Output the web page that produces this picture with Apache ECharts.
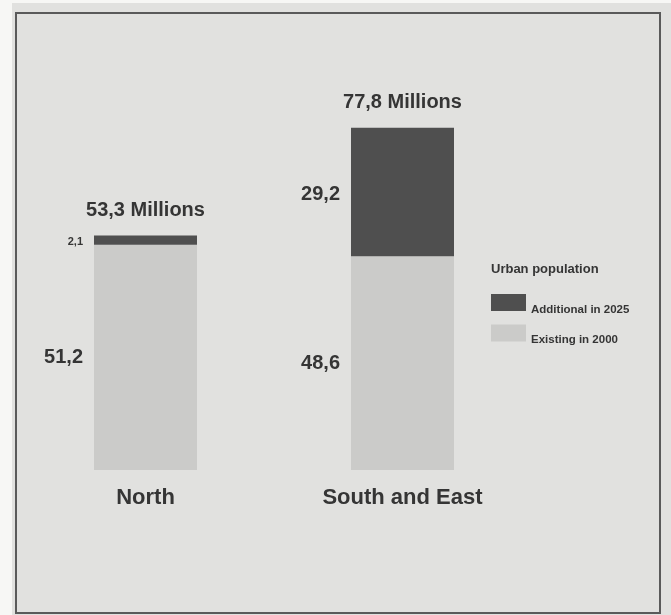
<!DOCTYPE html>
<html>
<head>
<meta charset="utf-8">
<script src="https://cdn.jsdelivr.net/npm/echarts@6/dist/echarts.min.js"></script>
<style>
html,body{margin:0;padding:0;background:#e1e1df;}
#c{width:671px;height:615px;}
</style>
</head>
<body>
<div id="c"></div>
<script>
const categories = ['North', 'South and East'];
const existing2000 = [51.2, 48.6];
const additional2025 = [2.1, 29.2];
const totals = [53.3, 77.8];
const legendTitle = 'Urban population';
const seriesNames = ['Additional in 2025', 'Existing in 2000'];

const fmt = v => String(v.toFixed(1)).replace('.', ',');
const FONT = '"Liberation Sans", Arial, sans-serif';
const TXT = '#353535';

const chart = echarts.init(document.getElementById('c'), null, {renderer: 'canvas'});
chart.setOption({
  backgroundColor: '#e1e1df',
  animation: false,
  textStyle: {fontFamily: FONT},
  title: {
    text: legendTitle, left: 491, top: 263, padding: 0,
    textStyle: {fontFamily: FONT, fontSize: 13, fontWeight: 'bold', color: TXT}
  },
  legend: {
    data: seriesNames,
    orient: 'vertical', left: 491, top: 294, padding: 0,
    itemWidth: 35, itemHeight: 17, itemGap: 9,
    icon: 'rect',
    formatter: '{a|{name}}',
    textStyle: {fontFamily: FONT, fontSize: 11.5, fontWeight: 'bold', color: TXT,
      rich: {a: {fontFamily: FONT, fontSize: 11.5, fontWeight: 'bold', color: TXT, padding: [14, 0, 0, 0]}}}
  },
  grid: {left: 17, width: 514, top: 118, bottom: 145, containLabel: false},
  xAxis: {
    type: 'category', data: categories,
    axisLine: {show: false}, axisTick: {show: false}, splitLine: {show: false},
    axisLabel: {margin: 17, fontFamily: FONT, fontSize: 22, fontWeight: 'bold', color: TXT}
  },
  yAxis: {type: 'value', min: 0, max: 80, show: false, splitLine: {show: false}},
  graphic: [
    {type: 'rect', shape: {x: 0, y: 0, width: 12, height: 615}, style: {fill: '#f7f7f5'}, silent: true},
    {type: 'rect', shape: {x: 0, y: 0, width: 671, height: 3}, style: {fill: '#f7f7f5'}, silent: true},
    {type: 'rect', shape: {x: 16, y: 13, width: 644, height: 600}, style: {fill: 'none', stroke: '#5a5a5a', lineWidth: 2}, silent: true}
  ],
  series: [
    {
      name: seriesNames[1], type: 'bar', stack: 's', data: existing2000, barWidth: 103,
      itemStyle: {color: '#cbcbc9'},
      label: {show: true, position: 'left', distance: 11, formatter: p => fmt(p.value),
        fontFamily: FONT, fontSize: 20, fontWeight: 'bold', color: TXT}
    },
    {
      name: seriesNames[0], type: 'bar', stack: 's', barWidth: 103,
      data: [
        {value: additional2025[0], label: {fontSize: 11, offset: [0, 2]}},
        {value: additional2025[1], label: {offset: [0, 3]}}
      ],
      itemStyle: {color: '#4f4f4f'},
      label: {show: true, position: 'left', distance: 11, formatter: p => fmt(p.value),
        fontFamily: FONT, fontWeight: 'bold', color: TXT, fontSize: 20}
    },
    {
      name: 'Total', type: 'bar', stack: 's', data: totals.map(() => 0), barWidth: 103,
      itemStyle: {color: 'transparent'},
      label: {show: true, position: 'top', distance: 15,
        formatter: p => fmt(totals[p.dataIndex]) + ' Millions',
        fontFamily: FONT, fontSize: 20, fontWeight: 'bold', color: TXT}
    }
  ]
});
</script>
</body>
</html>
